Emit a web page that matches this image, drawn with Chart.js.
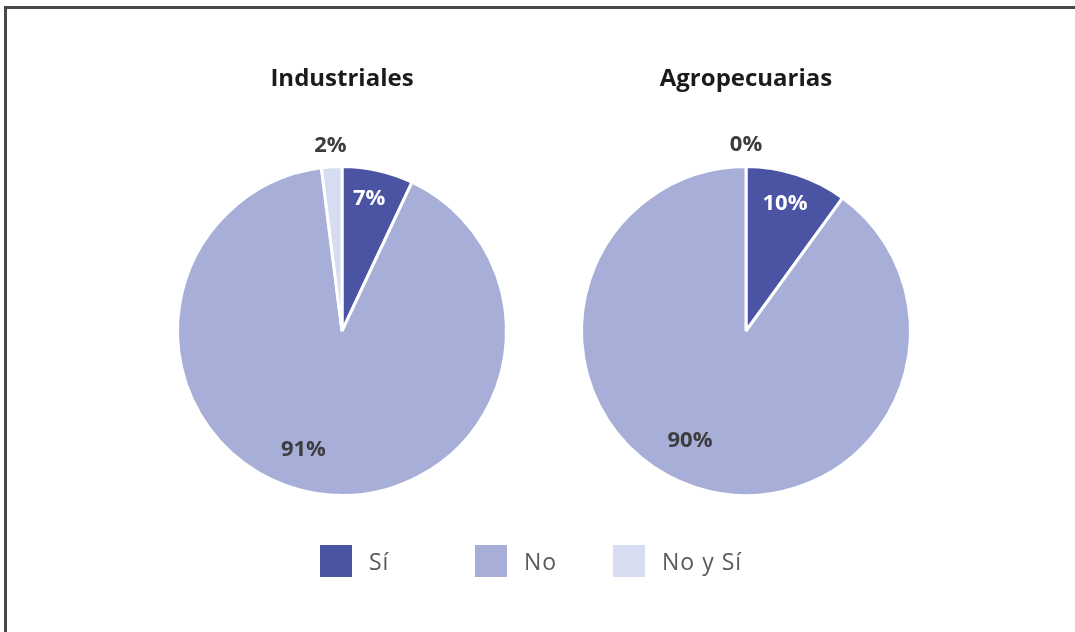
<!DOCTYPE html>
<html lang="es">
<head>
<meta charset="utf-8">
<script src="https://cdn.jsdelivr.net/npm/chart.js@4.4.1/dist/chart.umd.min.js"></script>
<style>
  html, body { margin: 0; padding: 0; background: #fff; }
  body { width: 1075px; height: 632px; position: relative; overflow: hidden; font-family: "Open Sans", sans-serif; }
  .frame { position: absolute; left: 4px; top: 6px; right: 0; bottom: -10px;
           border-top: 3px solid #474747; border-left: 3px solid #474747; }
  .pie { position: absolute; top: 0; width: 400px; height: 632px; }
  #legend { position: absolute; top: 545px; left: 0; width: 1075px; height: 32px; }
  .item { position: absolute; top: 0; height: 32px; display: flex; align-items: center; }
  .swatch { width: 32px; height: 32px; margin-right: 17px; }
  .label { font-size: 23px; color: #5a5a5a; letter-spacing: 1px; }
</style>
</head>
<body>
<div class="frame"></div>
<div class="pie" style="left:142px"><canvas id="c1" width="400" height="632"></canvas></div>
<div class="pie" style="left:546px"><canvas id="c2" width="400" height="632"></canvas></div>
<div id="legend"></div>
<script>
// Respuestas por sector
const categories = ["Sí", "No", "No y Sí"];
const industriales = [7, 91, 2];
const agropecuarias = [10, 90, 0];
const colors = ["#4b54a2", "#a7afd9", "#d6ddf1"];
const legendLeft = [320, 475, 613];

// Percentage labels drawn at each slice's mid angle
const sliceLabels = {
  id: "sliceLabels",
  afterDatasetsDraw(chart, args, opts) {
    const ctx = chart.ctx;
    const meta = chart.getDatasetMeta(0);
    const data = chart.data.datasets[0].data;
    ctx.save();
    ctx.font = "bold 22px 'Open Sans', sans-serif";
    ctx.textAlign = "center";
    ctx.textBaseline = "middle";
    meta.data.forEach((arc, i) => {
      const p = arc.getProps(["x", "y", "startAngle", "endAngle", "outerRadius"], true);
      const place = opts.place[i];
      const a = (p.startAngle + p.endAngle) / 2 + place.shift * Math.PI / 180;
      const r = p.outerRadius * place.r;
      ctx.fillStyle = place.color;
      ctx.fillText(data[i] + "%", p.x + Math.cos(a) * r, p.y + Math.sin(a) * r);
    });
    ctx.restore();
  }
};

function makePie(id, title, values, place) {
  return new Chart(document.getElementById(id), {
    type: "pie",
    data: {
      labels: categories,
      datasets: [{
        data: values,
        backgroundColor: colors,
        borderColor: "#ffffff",
        borderWidth: 3
      }]
    },
    options: {
      responsive: false,
      animation: false,
      layout: { padding: { top: 0, bottom: 135, left: 0, right: 0 } },
      plugins: {
        legend: { display: false },
        tooltip: { enabled: false },
        title: {
          display: true,
          text: title,
          color: "#1b1b1b",
          font: { family: "'Open Sans', sans-serif", size: 24, weight: "bold" },
          padding: { top: 64.6, bottom: 71.6 }
        },
        sliceLabels: { place: place }
      }
    },
    plugins: [sliceLabels]
  });
}

makePie("c1", "Industriales", industriales, [
  { r: 0.82, shift: -1, color: "#ffffff" },
  { r: 0.76, shift: 9, color: "#3d3d3d" },
  { r: 1.13, shift: 0, color: "#3d3d3d" }
]);
makePie("c2", "Agropecuarias", agropecuarias, [
  { r: 0.81, shift: -1, color: "#ffffff" },
  { r: 0.75, shift: 9, color: "#3d3d3d" },
  { r: 1.13, shift: 0, color: "#3d3d3d" }
]);

// Shared legend
const legend = document.getElementById("legend");
categories.forEach((name, i) => {
  const item = document.createElement("div");
  item.className = "item";
  item.style.left = legendLeft[i] + "px";
  const sw = document.createElement("div");
  sw.className = "swatch";
  sw.style.background = colors[i];
  const lb = document.createElement("span");
  lb.className = "label";
  lb.textContent = name;
  item.appendChild(sw);
  item.appendChild(lb);
  legend.appendChild(item);
});
</script>
</body>
</html>
